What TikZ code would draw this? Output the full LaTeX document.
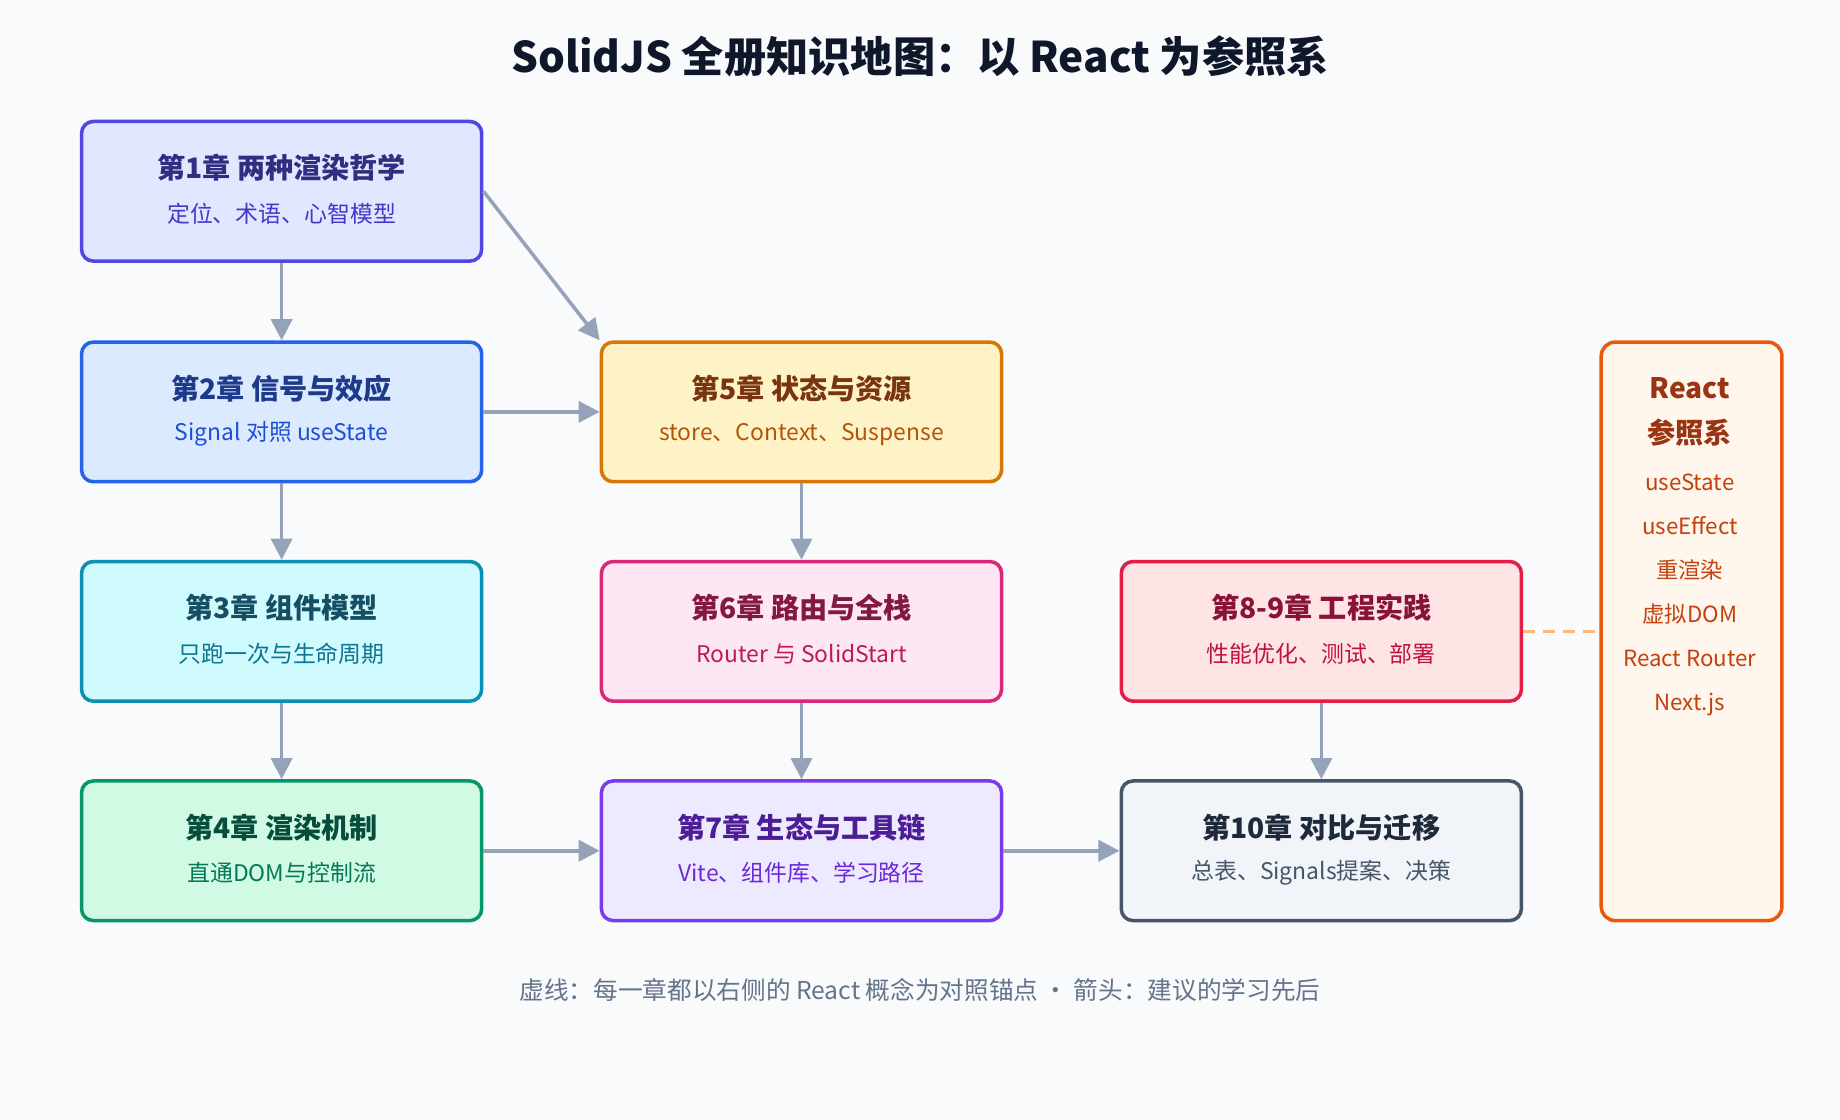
\documentclass[tikz,border=0pt]{standalone}
\usepackage{fontspec}
\setmainfont{Noto Sans CJK SC}
\usetikzlibrary{arrows.meta}
\definecolor{bg}{HTML}{F8FAFC}
\definecolor{arr}{HTML}{94A3B8}
\definecolor{aF}{HTML}{E0E7FF}\definecolor{aB}{HTML}{4F46E5}\definecolor{aT}{HTML}{312E81}\definecolor{aS}{HTML}{4338CA}
\definecolor{bF}{HTML}{DBEAFE}\definecolor{bB}{HTML}{2563EB}\definecolor{bT}{HTML}{1E3A8A}\definecolor{bS}{HTML}{1D4ED8}
\definecolor{cF}{HTML}{CFFAFE}\definecolor{cB}{HTML}{0891B2}\definecolor{cT}{HTML}{164E63}\definecolor{cS}{HTML}{0E7490}
\definecolor{dF}{HTML}{D1FAE5}\definecolor{dB}{HTML}{059669}\definecolor{dT}{HTML}{064E3B}\definecolor{dS}{HTML}{047857}
\definecolor{eF}{HTML}{FEF3C7}\definecolor{eB}{HTML}{D97706}\definecolor{eT}{HTML}{78350F}\definecolor{eS}{HTML}{B45309}
\definecolor{fF}{HTML}{FCE7F3}\definecolor{fB}{HTML}{DB2777}\definecolor{fT}{HTML}{831843}\definecolor{fS}{HTML}{BE185D}
\definecolor{gF}{HTML}{EDE9FE}\definecolor{gB}{HTML}{7C3AED}\definecolor{gT}{HTML}{4C1D95}\definecolor{gS}{HTML}{6D28D9}
\definecolor{hF}{HTML}{FFE4E6}\definecolor{hB}{HTML}{E11D48}\definecolor{hT}{HTML}{881337}\definecolor{hS}{HTML}{BE123C}
\definecolor{iF}{HTML}{F1F5F9}\definecolor{iB}{HTML}{475569}\definecolor{iT}{HTML}{1E293B}\definecolor{iS}{HTML}{475569}
\definecolor{rF}{HTML}{FFF7ED}\definecolor{rB}{HTML}{EA580C}\definecolor{rT}{HTML}{9A3412}\definecolor{rS}{HTML}{C2410C}
\definecolor{dash}{HTML}{FDBA74}
\definecolor{foot}{HTML}{64748B}
\definecolor{ttlc}{HTML}{0F172A}
\tikzset{
 box/.style 2 args={draw=#2,fill=#1,line width=3pt,rounded corners=10pt,minimum width=341pt,minimum height=119pt,inner sep=0pt},
 ttl/.style={font=\fontsize{24}{28}\selectfont\bfseries},
 sub/.style={font=\fontsize{19.5}{24}\selectfont},
 con/.style={draw=arr,line width=3pt,-{Triangle[length=18pt,width=18pt]}},
}
\newcommand{\chap}[6]{%
 \node[box={#4F}{#4B},anchor=north west] (#1) at (#2,#3) {};
 \node[ttl,text=#4T] (#1t) at ([yshift=20pt]#1.center) {#5};
 \node[sub,text=#4S] (#1s) at ([yshift=-19pt]#1.center) {#6};}
\begin{document}
\begin{tikzpicture}[x=1pt,y=-1pt]
\fill[bg] (0,0) rectangle (1568,954);
\useasboundingbox (0,0) rectangle (1568,954);
\node[font=\fontsize{36}{40}\selectfont\bfseries,text=ttlc] (title) at (784,48) {SolidJS 全册知识地图：以 React 为参照系};
\chap{c1}{68}{102}{a}{第1章 两种渲染哲学}{定位、术语、心智模型}
\chap{c2}{68}{290}{b}{第2章 信号与效应}{Signal 对照 useState}
\chap{c3}{68}{477}{c}{第3章 组件模型}{只跑一次与生命周期}
\chap{c4}{68}{664}{d}{第4章 渲染机制}{直通DOM与控制流}
\chap{c5}{511}{290}{e}{第5章 状态与资源}{store、Context、Suspense}
\chap{c6}{511}{477}{f}{第6章 路由与全栈}{Router 与 SolidStart}
\chap{c7}{511}{664}{g}{第7章 生态与工具链}{Vite、组件库、学习路径}
\chap{c89}{954}{477}{h}{第8-9章 工程实践}{性能优化、测试、部署}
\chap{c10}{954}{664}{i}{第10章 对比与迁移}{总表、Signals提案、决策}
\node[draw=rB,fill=rF,line width=3pt,rounded corners=12pt,minimum width=154pt,minimum height=493pt,anchor=north west,inner sep=0pt] (react) at (1363,290) {};
\node[ttl,text=rT,align=center,font=\fontsize{24}{38}\selectfont\bfseries] (rt) at (1440,351) {React\\参照系};
\node[text=rS,align=center,font=\fontsize{19}{37.5}\selectfont,anchor=north] (ri) at (1440,400) {useState\\useEffect\\重渲染\\虚拟DOM\\React Router\\Next.js};
\draw[con] (c1.south) -- (c2.north);
\draw[con] (c2.south) -- (c3.north);
\draw[con] (c3.south) -- (c4.north);
\draw[con] (c5.south) -- (c6.north);
\draw[con] (c6.south) -- (c7.north);
\draw[con] (c89.south) -- (c10.north);
\draw[con] (c2.east) -- (c5.west);
\draw[con] (c4.east) -- (c7.west);
\draw[con] (c7.east) -- (c10.west);
\draw[con] (c1.east) -- (c5.north west);
\draw[draw=dash,line width=3pt,dash pattern=on 10pt off 7pt] (c89.east) -- (react.west|-c89.east);
\node[text=foot,font=\fontsize{21}{24}\selectfont] (ft) at (784,844) {虚线：每一章都以右侧的 React 概念为对照锚点 · 箭头：建议的学习先后};
\end{tikzpicture}
\end{document}
